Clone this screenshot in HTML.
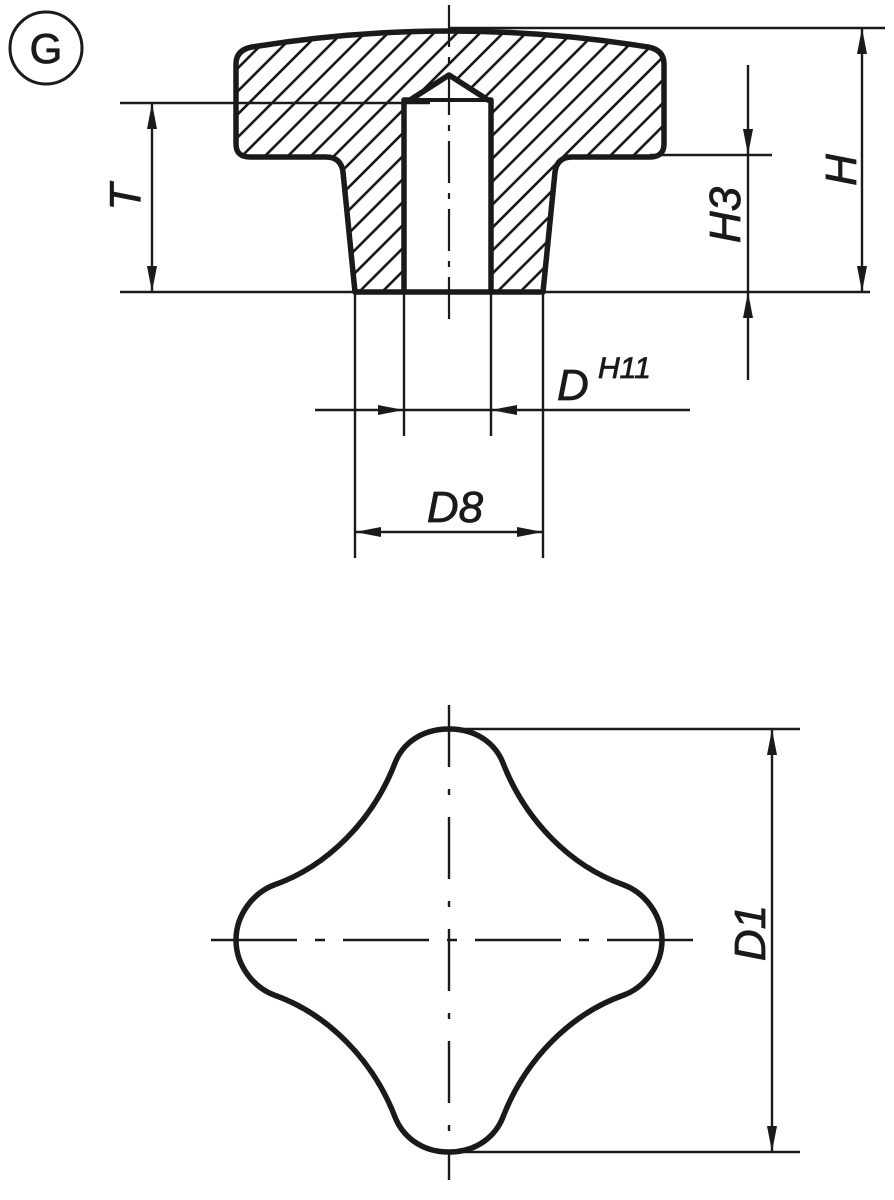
<!DOCTYPE html>
<html><head><style>html,body{margin:0;padding:0;background:#fff}svg{display:block}</style></head><body>
<svg width="894" height="1200" viewBox="0 0 894 1200" xmlns="http://www.w3.org/2000/svg">
<defs>
<clipPath id="k"><path clip-rule="evenodd" d="M236,64 Q236,50 252,47 Q449,15 648,47 Q664,50 664,64 L664,144 Q664,157 650,157 L572,157 Q557,157 555,172 L543,292 L355,292 L343,172 Q341,157 326,157 L250,157 Q236,157 236,144 Z M404,292 L404,100 L410,100 L449,75 L488,100 L491,100 L491,292 Z"/></clipPath>
<marker id="a" viewBox="0 0 26 10" refX="26" refY="5" markerWidth="26" markerHeight="10" markerUnits="userSpaceOnUse" orient="auto">
<path d="M0,0 L26,5 L0,10 Z" fill="#1a1a1a"/></marker>
</defs>
<g fill="none" stroke="#1a1a1a">
<circle cx="46" cy="48" r="36" stroke-width="3"/>
<text x="46" y="63" font-family="Liberation Sans, sans-serif" font-size="42" text-anchor="middle" fill="#1a1a1a" stroke="#1a1a1a" stroke-width="0.8">G</text>

<path clip-path="url(#k)" stroke-width="2.6" d="M-40,300L260,0M-17,300L283,0M6,300L306,0M29,300L329,0M52,300L352,0M75,300L375,0M98,300L398,0M121,300L421,0M144,300L444,0M167,300L467,0M190,300L490,0M213,300L513,0M236,300L536,0M259,300L559,0M282,300L582,0M305,300L605,0M328,300L628,0M351,300L651,0M374,300L674,0M397,300L697,0M420,300L720,0M443,300L743,0M466,300L766,0M489,300L789,0M512,300L812,0M535,300L835,0M558,300L858,0M581,300L881,0M604,300L904,0M627,300L927,0M650,300L950,0M673,300L973,0"/>
<path d="M236,64 Q236,50 252,47 Q449,15 648,47 Q664,50 664,64 L664,144 Q664,157 650,157 L572,157 Q557,157 555,172 L543,292 L355,292 L343,172 Q341,157 326,157 L250,157 Q236,157 236,144 Z M404,292 L404,100 L410,100 L449,75 L488,100 L491,100 L491,292 Z" stroke-width="5.5" stroke-linejoin="round"/>
<line x1="410" y1="100" x2="488" y2="100" stroke-width="4"/>
<line x1="449" y1="5" x2="449" y2="322" stroke-width="2.2" stroke-dasharray="42,10,6,10"/>

<g stroke-width="2.4">
<line x1="120" y1="103" x2="430" y2="103"/>
<line x1="120" y1="292" x2="870" y2="292"/>
<line x1="449" y1="28" x2="885" y2="28"/>
<line x1="650" y1="155" x2="772" y2="155"/>
<line x1="152" y1="198" x2="152" y2="103" marker-end="url(#a)"/>
<line x1="152" y1="198" x2="152" y2="292" marker-end="url(#a)"/>
<line x1="862" y1="160" x2="862" y2="28" marker-end="url(#a)"/>
<line x1="862" y1="160" x2="862" y2="292" marker-end="url(#a)"/>
<line x1="748" y1="65" x2="748" y2="155" marker-end="url(#a)"/>
<line x1="748" y1="155" x2="748" y2="292"/>
<line x1="748" y1="380" x2="748" y2="292" marker-end="url(#a)"/>
<line x1="355" y1="292" x2="355" y2="558"/>
<line x1="543" y1="292" x2="543" y2="558"/>
<line x1="404" y1="292" x2="404" y2="436"/>
<line x1="491" y1="292" x2="491" y2="436"/>
<line x1="315" y1="410" x2="404" y2="410" marker-end="url(#a)"/>
<line x1="404" y1="410" x2="491" y2="410"/>
<line x1="690" y1="410" x2="491" y2="410" marker-end="url(#a)"/>
<line x1="449" y1="532" x2="355" y2="532" marker-end="url(#a)"/>
<line x1="449" y1="532" x2="543" y2="532" marker-end="url(#a)"/>
<line x1="455" y1="729" x2="800" y2="729"/>
<line x1="455" y1="1152" x2="800" y2="1152"/>
<line x1="772" y1="940" x2="772" y2="729" marker-end="url(#a)"/>
<line x1="772" y1="940" x2="772" y2="1152" marker-end="url(#a)"/>
<line x1="449" y1="705" x2="449" y2="1180" stroke-dasharray="62,22,6,22"/>
<line x1="211" y1="940" x2="695" y2="940" stroke-dasharray="86,18,10,18"/>
</g>

<path d="M449,729 C478,729 496,745 503,763 C525,820 570,866 624,885 C645,893 662,915 662,940 C662,965 645,987 624,995 C570,1014 525,1060 503,1117 C496,1135 478,1152 449,1152 C420,1152 402,1135 395,1117 C373,1060 328,1014 274,995 C253,987 236,965 236,940 C236,915 253,893 274,885 C328,866 373,820 395,763 C402,745 420,729 449,729 Z" stroke-width="5.5"/>
</g>
<g font-family="Liberation Sans, sans-serif" font-style="italic" font-size="44" fill="#1a1a1a" stroke="#1a1a1a" stroke-width="0.8">
<text transform="translate(140,197) rotate(-90)" text-anchor="middle">T</text>
<text transform="translate(856,170) rotate(-90)" text-anchor="middle">H</text>
<text transform="translate(740,215) rotate(-90)" text-anchor="middle">H3</text>
<text transform="translate(765,933) rotate(-90)" text-anchor="middle">D1</text>
<text x="455" y="522" text-anchor="middle">D8</text>
<text x="557" y="400">D</text>
<text x="598" y="378" font-size="30">H11</text>
</g>
</svg>
</body></html>
